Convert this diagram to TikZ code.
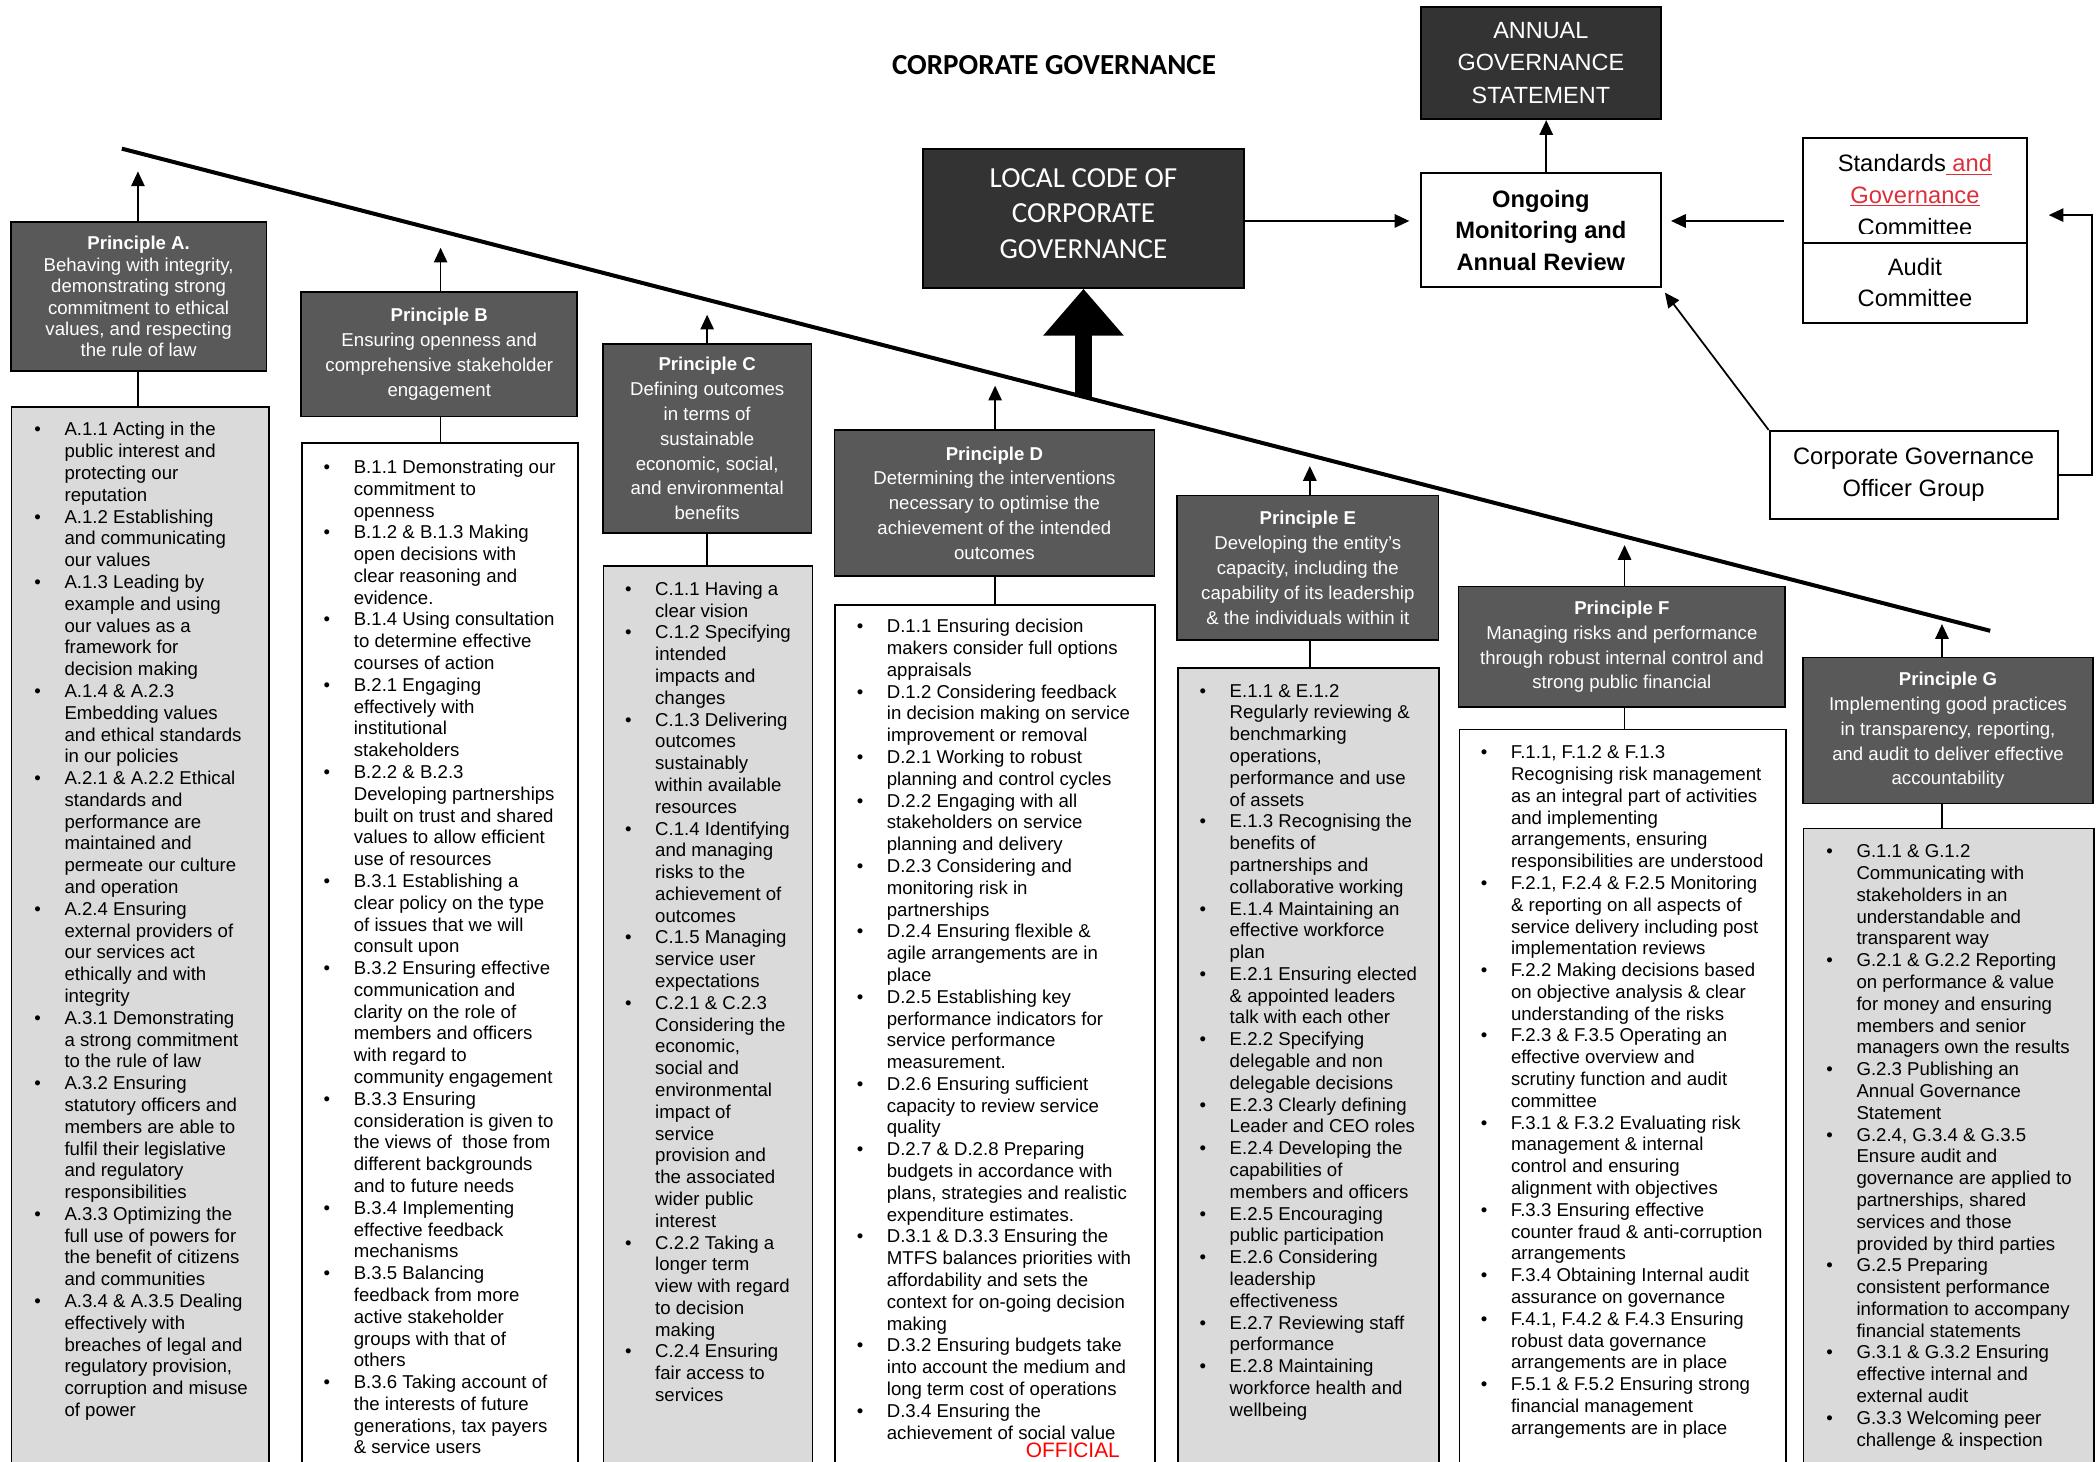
\documentclass[tikz,border=0pt]{standalone}
\usepackage{fontspec}
\setmainfont{Liberation Sans}
\newfontfamily\calibfont{Carlito}
\usetikzlibrary{arrows.meta}
\definecolor{hdrgray}{HTML}{595959}
\definecolor{darkbox}{HTML}{333333}
\definecolor{listgray}{HTML}{DADADA}
\definecolor{trackred}{HTML}{DC2F3A}
\newcommand{\bu}{\makebox[22.5pt][l]{\textbullet}}
\begin{document}
\begin{tikzpicture}[x=1pt,y=-1pt,
  hdrbox/.style={draw=black,line width=1.3pt,fill=hdrgray,text=white,align=center,inner sep=0pt,font=\fontsize{13.9}{18.5}\selectfont},
  listbox/.style={draw=black,line width=1.3pt,anchor=north west,inner sep=0pt,minimum height=820pt},
  listtxt/.style={anchor=base west,inner sep=0pt,font=\fontsize{13.9}{16.27}\selectfont},
  uparr/.style={line width=1.2pt,-{Triangle[length=11pt,width=10pt]}},
  conn/.style={line width=1.2pt},
  topbox/.style={draw=black,line width=1.4pt,align=center,inner sep=0pt,font=\fontsize{17.7}{23.6}\selectfont},
  arr/.style={line width=1.3pt,-{Triangle[length=11pt,width=10pt]}}
]
\useasboundingbox (0,0) rectangle (1568,1091);

% ---------- title ----------
\node[anchor=base,inner sep=0pt,font=\calibfont\bfseries\fontsize{21.7}{26}\selectfont] (title) at (787,56) {CORPORATE GOVERNANCE};

% ---------- top boxes ----------
\node[draw=black,line width=1.3pt,fill=darkbox,minimum width=240pt,minimum height=104pt,inner sep=0pt] (LC) at (809,163) {};
\node[text=white,align=center,inner sep=0pt,font=\calibfont\fontsize{21.7}{26.5}\selectfont] (LCt) at (809,159.5) {LOCAL CODE OF\\CORPORATE\\GOVERNANCE};

\node[topbox,fill=darkbox,text=white,minimum width=179pt,minimum height=84pt,font=\fontsize{17.5}{24}\selectfont] (AGS) at (1150.5,47) {ANNUAL\\GOVERNANCE\\STATEMENT};
\node[topbox,fill=white,minimum width=179pt,minimum height=85.6pt,font=\bfseries\fontsize{17.7}{23.5}\selectfont] (Ong) at (1150.5,171.8) {Ongoing\\Monitoring and\\Annual Review};

\node[topbox,minimum width=167.6pt,minimum height=78.4pt] (Std) at (1429.8,142) {};
\begin{scope}
\clip (1346,102.8) rectangle (1513.6,174);
\node[align=center,inner sep=0pt,font=\fontsize{17.7}{23.6}\selectfont] (Stdt) at (1429.8,145.6) {Standards\textcolor{trackred}{\underline{\ and}}\\\textcolor{trackred}{\underline{Governance}}\\Committee};
\end{scope}
\node[topbox,minimum width=167.6pt,minimum height=59.8pt] (Aud) at (1429.8,211.1) {Audit\\Committee};
\node[topbox,minimum width=215pt,minimum height=65.7pt] (CGOG) at (1428.8,354.6) {Corporate Governance\\Officer Group};

\draw[arr] ([xshift=4pt]Ong.north) -- ([xshift=4pt]AGS.south);
\draw[arr,shorten >=8pt] ([yshift=-2pt]LC.east) -- ([yshift=-2pt]LC.east -| Ong.west);
\draw[arr,shorten <=13pt,shorten >=7pt] ([yshift=-23pt]Std.west) -- ([yshift=-23pt]Std.west -| Ong.east);
\draw[arr,shorten >=4pt] (CGOG.north west) -- (Ong.south east);
\coordinate (loop) at (1562,356);
\draw[arr,shorten >=15.4pt] (CGOG.east) -- (CGOG.east -| loop) |- ([yshift=-18.6pt]Std.east);

% ---------- diagonal ----------
\coordinate (dL) at (91,111);
\coordinate (dR) at (1486,471);
\draw[line width=3pt] (dL) -- (dR);
\coordinate (thk) at (809,296.3);
\draw[line width=13pt,-{Triangle[length=35pt,width=58pt]}] (thk) -- (LC.south);

% ---------- list boxes ----------
\node[listbox,fill=listgray,minimum width=192pt] (Alist) at (8,303) {};
\node[listbox,fill=white,minimum width=206pt] (Blist) at (225,330) {};
\node[listbox,fill=listgray,minimum width=156pt] (Clist) at (450,422) {};
\node[listbox,fill=white,minimum width=239pt] (Dlist) at (623,451) {};
\node[listbox,fill=listgray,minimum width=195pt] (Elist) at (879,498) {};
\node[listbox,fill=white,minimum width=244pt] (Flist) at (1089,544) {};
\node[listbox,fill=listgray,minimum width=217pt] (Glist) at (1346,618) {};

% ---------- principle headers ----------
\node[hdrbox,font=\fontsize{13.9}{16}\selectfont,minimum width=191pt,minimum height=111pt] (Ahd) at (103.5,221.5)
 {\textbf{Principle A.}\\Behaving with integrity,\\demonstrating strong\\commitment to ethical\\values, and respecting\\the rule of law};
\node[hdrbox,minimum width=206pt,minimum height=93pt] (Bhd) at (328,264.5)
 {\textbf{Principle B}\\Ensuring openness and\\comprehensive stakeholder\\engagement};
\node[hdrbox,minimum width=156pt,minimum height=141pt] (Chd) at (528,327.5)
 {\textbf{Principle C}\\Defining outcomes\\in terms of\\sustainable\\economic, social,\\and environmental\\benefits};
\node[hdrbox,minimum width=239pt,minimum height=109pt] (Dhd) at (742.5,375.5)
 {\textbf{Principle D}\\Determining the interventions\\necessary to optimise the\\achievement of the intended\\outcomes};
\node[hdrbox,minimum width=195pt,minimum height=108pt] (Ehd) at (976.5,424)
 {\textbf{Principle E}\\Developing the entity’s\\capacity, including the\\capability of its leadership\\\& the individuals within it};
\node[hdrbox,minimum width=244pt,minimum height=90pt] (Fhd) at (1211,483)
 {\textbf{Principle F}\\Managing risks and performance\\through robust internal control and\\strong public financial};
\node[hdrbox,minimum width=217pt,minimum height=109pt] (Ghd) at (1454.5,545.5)
 {\textbf{Principle G}\\Implementing good practices\\in transparency, reporting,\\and audit to deliver effective\\accountability};

% ---------- arrows and connectors ----------
\coordinate (Atip) at (103,128);
\coordinate (Btip) at (329,185);
\coordinate (Ctip) at (528,235);
\coordinate (Dtip) at (743,288);
\coordinate (Etip) at (978,348);
\coordinate (Ftip) at (1213,407);
\coordinate (Gtip) at (1450,466);
\foreach \p in {A,B,C,D,E,F,G}{
  \draw[uparr] (\p tip |- \p hd.north) -- (\p tip);
  \draw[conn] (\p tip |- \p hd.south) -- (\p tip |- \p list.north);
}

% ---------- list texts ----------
\node[listtxt] (Atxt) at (25.5,325.5) {\begin{tabular}[t]{@{}l@{}l@{}}
\bu & A.1.1 Acting in the\\
 & public interest and\\
 & protecting our\\
 & reputation\\
\bu & A.1.2 Establishing\\
 & and communicating\\
 & our values\\
\bu & A.1.3 Leading by\\
 & example and using\\
 & our values as a\\
 & framework for\\
 & decision making\\
\bu & A.1.4 \& A.2.3\\
 & Embedding values\\
 & and ethical standards\\
 & in our policies\\
\bu & A.2.1 \& A.2.2 Ethical\\
 & standards and\\
 & performance are\\
 & maintained and\\
 & permeate our culture\\
 & and operation\\
\bu & A.2.4 Ensuring\\
 & external providers of\\
 & our services act\\
 & ethically and with\\
 & integrity\\
\bu & A.3.1 Demonstrating\\
 & a strong commitment\\
 & to the rule of law\\
\bu & A.3.2 Ensuring\\
 & statutory officers and\\
 & members are able to\\
 & fulfil their legislative\\
 & and regulatory\\
 & responsibilities\\
\bu & A.3.3 Optimizing the\\
 & full use of powers for\\
 & the benefit of citizens\\
 & and communities\\
\bu & A.3.4 \& A.3.5 Dealing\\
 & effectively with\\
 & breaches of legal and\\
 & regulatory provision,\\
 & corruption and misuse\\
 & of power
\end{tabular}};

\node[listtxt] (Btxt) at (241.5,353.5) {\begin{tabular}[t]{@{}l@{}l@{}}
\bu & B.1.1 Demonstrating our\\
 & commitment to\\
 & openness\\
\bu & B.1.2 \& B.1.3 Making\\
 & open decisions with\\
 & clear reasoning and\\
 & evidence.\\
\bu & B.1.4 Using consultation\\
 & to determine effective\\
 & courses of action\\
\bu & B.2.1 Engaging\\
 & effectively with\\
 & institutional\\
 & stakeholders\\
\bu & B.2.2 \& B.2.3\\
 & Developing partnerships\\
 & built on trust and shared\\
 & values to allow efficient\\
 & use of resources\\
\bu & B.3.1 Establishing a\\
 & clear policy on the type\\
 & of issues that we will\\
 & consult upon\\
\bu & B.3.2 Ensuring effective\\
 & communication and\\
 & clarity on the role of\\
 & members and officers\\
 & with regard to\\
 & community engagement\\
\bu & B.3.3 Ensuring\\
 & consideration is given to\\
 & the views of\ \ those from\\
 & different backgrounds\\
 & and to future needs\\
\bu & B.3.4 Implementing\\
 & effective feedback\\
 & mechanisms\\
\bu & B.3.5 Balancing\\
 & feedback from more\\
 & active stakeholder\\
 & groups with that of\\
 & others\\
\bu & B.3.6 Taking account of\\
 & the interests of future\\
 & generations, tax payers\\
 & \& service users
\end{tabular}};

\node[listtxt] (Ctxt) at (466.5,444.5) {\begin{tabular}[t]{@{}l@{}l@{}}
\bu & C.1.1 Having a\\
 & clear vision\\
\bu & C.1.2 Specifying\\
 & intended\\
 & impacts and\\
 & changes\\
\bu & C.1.3 Delivering\\
 & outcomes\\
 & sustainably\\
 & within available\\
 & resources\\
\bu & C.1.4 Identifying\\
 & and managing\\
 & risks to the\\
 & achievement of\\
 & outcomes\\
\bu & C.1.5 Managing\\
 & service user\\
 & expectations\\
\bu & C.2.1 \& C.2.3\\
 & Considering the\\
 & economic,\\
 & social and\\
 & environmental\\
 & impact of\\
 & service\\
 & provision and\\
 & the associated\\
 & wider public\\
 & interest\\
\bu & C.2.2 Taking a\\
 & longer term\\
 & view with regard\\
 & to decision\\
 & making\\
\bu & C.2.4 Ensuring\\
 & fair access to\\
 & services
\end{tabular}};

\node[listtxt] (Dtxt) at (639.5,472.5) {\begin{tabular}[t]{@{}l@{}l@{}}
\bu & D.1.1 Ensuring decision\\
 & makers consider full options\\
 & appraisals\\
\bu & D.1.2 Considering feedback\\
 & in decision making on service\\
 & improvement or removal\\
\bu & D.2.1 Working to robust\\
 & planning and control cycles\\
\bu & D.2.2 Engaging with all\\
 & stakeholders on service\\
 & planning and delivery\\
\bu & D.2.3 Considering and\\
 & monitoring risk in\\
 & partnerships\\
\bu & D.2.4 Ensuring flexible \&\\
 & agile arrangements are in\\
 & place\\
\bu & D.2.5 Establishing key\\
 & performance indicators for\\
 & service performance\\
 & measurement.\\
\bu & D.2.6 Ensuring sufficient\\
 & capacity to review service\\
 & quality\\
\bu & D.2.7 \& D.2.8 Preparing\\
 & budgets in accordance with\\
 & plans, strategies and realistic\\
 & expenditure estimates.\\
\bu & D.3.1 \& D.3.3 Ensuring the\\
 & MTFS balances priorities with\\
 & affordability and sets the\\
 & context for on-going decision\\
 & making\\
\bu & D.3.2 Ensuring budgets take\\
 & into account the medium and\\
 & long term cost of operations\\
\bu & D.3.4 Ensuring the\\
 & achievement of social value
\end{tabular}};

\node[listtxt] (Etxt) at (895.5,520.5) {\begin{tabular}[t]{@{}l@{}l@{}}
\bu & E.1.1 \& E.1.2\\
 & Regularly reviewing \&\\
 & benchmarking\\
 & operations,\\
 & performance and use\\
 & of assets\\
\bu & E.1.3 Recognising the\\
 & benefits of\\
 & partnerships and\\
 & collaborative working\\
\bu & E.1.4 Maintaining an\\
 & effective workforce\\
 & plan\\
\bu & E.2.1 Ensuring elected\\
 & \& appointed leaders\\
 & talk with each other\\
\bu & E.2.2 Specifying\\
 & delegable and non\\
 & delegable decisions\\
\bu & E.2.3 Clearly defining\\
 & Leader and CEO roles\\
\bu & E.2.4 Developing the\\
 & capabilities of\\
 & members and officers\\
\bu & E.2.5 Encouraging\\
 & public participation\\
\bu & E.2.6 Considering\\
 & leadership\\
 & effectiveness\\
\bu & E.2.7 Reviewing staff\\
 & performance\\
\bu & E.2.8 Maintaining\\
 & workforce health and\\
 & wellbeing
\end{tabular}};

\node[listtxt] (Ftxt) at (1105.5,566.5) {\begin{tabular}[t]{@{}l@{}l@{}}
\bu & F.1.1, F.1.2 \& F.1.3\\
 & Recognising risk management\\
 & as an integral part of activities\\
 & and implementing\\
 & arrangements, ensuring\\
 & responsibilities are understood\\
\bu & F.2.1, F.2.4 \& F.2.5 Monitoring\\
 & \& reporting on all aspects of\\
 & service delivery including post\\
 & implementation reviews\\
\bu & F.2.2 Making decisions based\\
 & on objective analysis \& clear\\
 & understanding of the risks\\
\bu & F.2.3 \& F.3.5 Operating an\\
 & effective overview and\\
 & scrutiny function and audit\\
 & committee\\
\bu & F.3.1 \& F.3.2 Evaluating risk\\
 & management \& internal\\
 & control and ensuring\\
 & alignment with objectives\\
\bu & F.3.3 Ensuring effective\\
 & counter fraud \& anti-corruption\\
 & arrangements\\
\bu & F.3.4 Obtaining Internal audit\\
 & assurance on governance\\
\bu & F.4.1, F.4.2 \& F.4.3 Ensuring\\
 & robust data governance\\
 & arrangements are in place\\
\bu & F.5.1 \& F.5.2 Ensuring strong\\
 & financial management\\
 & arrangements are in place
\end{tabular}};

\node[listtxt] (Gtxt) at (1363.5,640.5) {\begin{tabular}[t]{@{}l@{}l@{}}
\bu & G.1.1 \& G.1.2\\
 & Communicating with\\
 & stakeholders in an\\
 & understandable and\\
 & transparent way\\
\bu & G.2.1 \& G.2.2 Reporting\\
 & on performance \& value\\
 & for money and ensuring\\
 & members and senior\\
 & managers own the results\\
\bu & G.2.3 Publishing an\\
 & Annual Governance\\
 & Statement\\
\bu & G.2.4, G.3.4 \& G.3.5\\
 & Ensure audit and\\
 & governance are applied to\\
 & partnerships, shared\\
 & services and those\\
 & provided by third parties\\
\bu & G.2.5 Preparing\\
 & consistent performance\\
 & information to accompany\\
 & financial statements\\
\bu & G.3.1 \& G.3.2 Ensuring\\
 & effective internal and\\
 & external audit\\
\bu & G.3.3 Welcoming peer\\
 & challenge \& inspection
\end{tabular}};

\node[anchor=base,text=red,inner sep=0pt,font=\fontsize{15.6}{18}\selectfont] (official) at (801,1088) {OFFICIAL};
\end{tikzpicture}
\end{document}
